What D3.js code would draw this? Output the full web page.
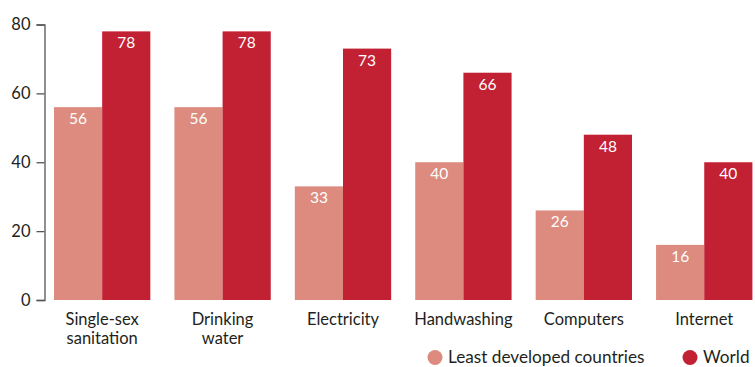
<!DOCTYPE html>
<html><head><meta charset="utf-8">
<script src="https://cdn.jsdelivr.net/npm/d3@7/dist/d3.min.js"></script>
<style>body{margin:0;background:#fff;} text{font-family:Lato,"Open Sans",sans-serif;}</style>
</head><body>
<svg id="c" width="755" height="367"></svg>
<script>
const categories = [["Single-sex","sanitation"],["Drinking","water"],["Electricity"],["Handwashing"],["Computers"],["Internet"]];
const ldc = [56, 56, 33, 40, 26, 16];
const world = [78, 78, 73, 66, 48, 40];
const seriesNames = ["Least developed countries", "World"];
const yTicks = [0, 20, 40, 60, 80];
const colors = ["#DC8B7E", "#C22033"];

const svg = d3.select("#c");
const keys = categories.map((c,i)=>i);
const x = d3.scaleBand().domain(keys).range([54, 752.4]).paddingInner(0.2).paddingOuter(0);
const x1 = d3.scaleBand().domain([0,1]).range([0, x.bandwidth()]);
const y = d3.scaleLinear().domain([0, 80]).range([300, 24.5]);

const yAxis = svg.append("g").attr("transform","translate(44.5,0)")
  .call(d3.axisLeft(y).tickValues(yTicks).tickSize(8).tickPadding(6));
yAxis.select(".domain").attr("stroke","#555").attr("stroke-width",1.3);
yAxis.selectAll(".tick line").attr("stroke","#555").attr("stroke-width",1.3);
yAxis.selectAll(".tick text").attr("fill","#231f20").style("font-size","16.5px").style("font-family","Lato");

const series = [ldc, world];
series.forEach((vals, s) => {
  const g = svg.append("g");
  g.selectAll("rect").data(vals).join("rect")
    .attr("x",(d,i)=>x(i)+x1(s)).attr("width",x1.bandwidth())
    .attr("y",d=>y(d)).attr("height",d=>y(0)-y(d))
    .attr("fill",colors[s]);
  g.selectAll("text").data(vals).join("text")
    .attr("x",(d,i)=>x(i)+x1(s)+x1.bandwidth()/2)
    .attr("y",d=>y(d)+17)
    .attr("text-anchor","middle").attr("fill","#fff")
    .style("font-size","15.5px").text(d=>d);
});

const cl = svg.append("g");
categories.forEach((lines,i)=>{
  lines.forEach((ln,j)=>{
    cl.append("text").attr("text-anchor","middle").attr("fill","#231f20").style("font-size","16.5px")
      .attr("x", x(i)+x.bandwidth()/2).attr("y", 325 + j*19).text(ln);
  });
});

const legX = [435, 690];
seriesNames.forEach((n,s)=>{
  svg.append("circle").attr("cx",legX[s]).attr("cy",357.5).attr("r",7.5).attr("fill",colors[s]);
  svg.append("text").attr("x",legX[s]+13).attr("y",363).attr("fill","#231f20").style("font-size","17.2px").text(n);
});
</script>
</body></html>
